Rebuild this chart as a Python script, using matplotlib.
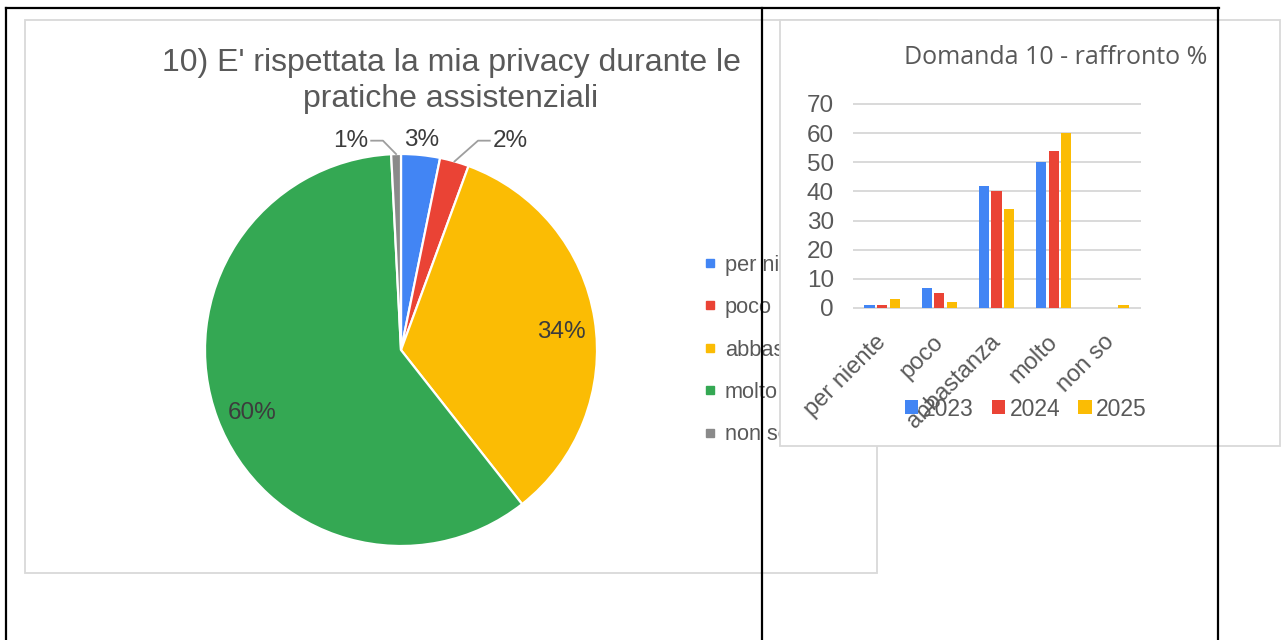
import matplotlib.pyplot as plt
import matplotlib.transforms as mtransforms
import numpy as np
from matplotlib.patches import Rectangle
from matplotlib.lines import Line2D

# ---------- dati ----------
pie_labels = ["per niente", "poco", "abbastanza", "molto", "non so"]
pie_values = [3.2, 2.4, 33.8, 59.8, 0.8]
pie_colors = ["#4285F4", "#EA4335", "#FBBC04", "#34A853", "#8A8A8A"]
pie_title = "10) E' rispettata la mia privacy durante le\npratiche assistenziali"

bar_categories = ["per niente", "poco", "abbastanza", "molto", "non so"]
bar_years = ["2023", "2024", "2025"]
bar_2023 = [1, 7, 42, 50, 0]
bar_2024 = [1, 5, 40, 54, 0]
bar_2025 = [3, 2, 34, 60, 1]
bar_title = "Domanda 10 - raffronto %"
bar_colors = ["#4285F4", "#EA4335", "#FBBC04"]

plt.rcParams['font.family'] = ['Liberation Sans', 'DejaVu Sans']

W, H = 1285, 640
fig = plt.figure(figsize=(W / 100, H / 100), dpi=100)


def fx(px):
    return px / W


def fy(py):
    return 1 - py / H


grey_txt = "#595959"
border = "#d9d9d9"

# riquadro grafico a torta
fig.add_artist(Rectangle((fx(25), fy(573)), fx(877) - fx(25), fy(20) - fy(573),
                         transform=fig.transFigure, facecolor="white",
                         edgecolor=border, linewidth=1.3, zorder=0.5))

# ---------- torta ----------
cx, cy, r = 401, 350, 196
axp = fig.add_axes([fx(cx - r), fy(cy + r), (2 * r) / W, (2 * r) / H])
axp.set_zorder(1)
wedges, _ = axp.pie(pie_values, colors=pie_colors, startangle=90, counterclock=False,
                    wedgeprops=dict(edgecolor="white", linewidth=1.6))
axp.set_xlim(-1, 1)
axp.set_ylim(-1, 1)
axp.set_aspect("equal")
axp.axis("off")

lbl_col = "#3c3c3c"
for w, v in zip(wedges, pie_values):
    mid = np.deg2rad((w.theta1 + w.theta2) / 2)
    txt = "%d%%" % round(v)
    if v >= 10:
        axp.text(0.82 * np.cos(mid) + 0.01, 0.82 * np.sin(mid) - 0.035, txt, ha="center",
                 va="center", fontsize=17.5, color=lbl_col)
    elif v >= 3:
        axp.text(1.07 * np.cos(mid), 1.07, txt, ha="center", va="center",
                 fontsize=17.5, color=lbl_col, clip_on=False)
    else:
        # etichette esterne con linea guida
        ex, ey = np.cos(mid), np.sin(mid)
        side = 1 if ex > 0 else -1
        ly = 1.068
        bx = ex + side * (0.12 if side > 0 else 0.067)
        tx = bx + side * 0.06
        axp.add_line(Line2D([ex, bx, tx], [ey, ly, ly], color="#9e9e9e", lw=1.3,
                            clip_on=False))
        axp.text(tx + side * 0.015, ly, txt, ha="left" if side > 0 else "right",
                 va="center", fontsize=17.5, color=lbl_col, clip_on=False)

fig.text(fx(451), fy(81), pie_title, ha="center", va="center", fontsize=23,
         color=grey_txt, linespacing=1.27, zorder=1)

handles = [Line2D([], [], marker="s", color=c, linestyle="none", markersize=5.5)
           for c in pie_colors]
axp.legend(handles, pie_labels, loc="center left", bbox_to_anchor=(fx(705), fy(350)),
           bbox_transform=fig.transFigure, frameon=False, fontsize=15.7,
           labelcolor=grey_txt, handlelength=0.5, handletextpad=0.4,
           labelspacing=0.98, borderpad=0, borderaxespad=0)

# riquadro grafico a barre (copre la legenda della torta)
fig.add_artist(Rectangle((fx(780), fy(446)), fx(1280) - fx(780), fy(20) - fy(446),
                         transform=fig.transFigure, facecolor="white",
                         edgecolor=border, linewidth=1.3, zorder=2))

# ---------- barre ----------
axb = fig.add_axes([fx(853.5), fy(308), 286 / W, 204 / H])
axb.set_zorder(3)
axb.patch.set_alpha(0)
x = np.arange(len(bar_categories))
bw, off = 0.18, 0.22
for i, (vals, c, yr) in enumerate(zip([bar_2023, bar_2024, bar_2025], bar_colors, bar_years)):
    axb.bar(x + (i - 1) * off, vals, width=bw, color=c, label=yr, zorder=3)
axb.set_xlim(-0.5, len(bar_categories) - 0.5)
axb.set_ylim(0, 70)
axb.set_yticks(np.arange(0, 71, 10))
axb.yaxis.grid(True, color=border, linewidth=1.4)
for gl in axb.get_ygridlines():
    gl.set_clip_on(False)
axb.set_axisbelow(True)
for s in axb.spines.values():
    s.set_visible(False)
axb.tick_params(axis="y", length=0, pad=14, labelsize=17.5, labelcolor=grey_txt)
axb.tick_params(axis="x", length=0, pad=8, labelsize=17, labelcolor=grey_txt)
axb.set_xticks(x)
axb.set_xticklabels(bar_categories, rotation=45, ha="right")
shift = mtransforms.ScaledTranslation(0.08, -0.12, fig.dpi_scale_trans)
for lab in axb.get_xticklabels():
    lab.set_transform(lab.get_transform() + shift)

axb.legend(loc="center", bbox_to_anchor=(fx(1026), fy(409)), bbox_transform=fig.transFigure,
           ncol=3, frameon=False, fontsize=16.5, labelcolor=grey_txt,
           handlelength=0.57, handleheight=0.57, handletextpad=0.2, columnspacing=0.8,
           borderpad=0, borderaxespad=0)

fig.text(fx(1055.5), fy(58), bar_title, ha="center", va="center", fontsize=18,
         color=grey_txt, zorder=3, family=["Open Sans", "DejaVu Sans"])

# ---------- linee nere della tabella ----------
lk = dict(color="black", linewidth=1.6, transform=fig.transFigure, zorder=10)
fig.add_artist(Line2D([fx(6), fx(1219)], [fy(8), fy(8)], **lk))
fig.add_artist(Line2D([fx(6), fx(6)], [fy(8), 0], **lk))
fig.add_artist(Line2D([fx(762), fx(762)], [fy(8), 0], **lk))
fig.add_artist(Line2D([fx(1218), fx(1218)], [fy(8), 0], **lk))

fig.savefig("out.png", dpi=100)
